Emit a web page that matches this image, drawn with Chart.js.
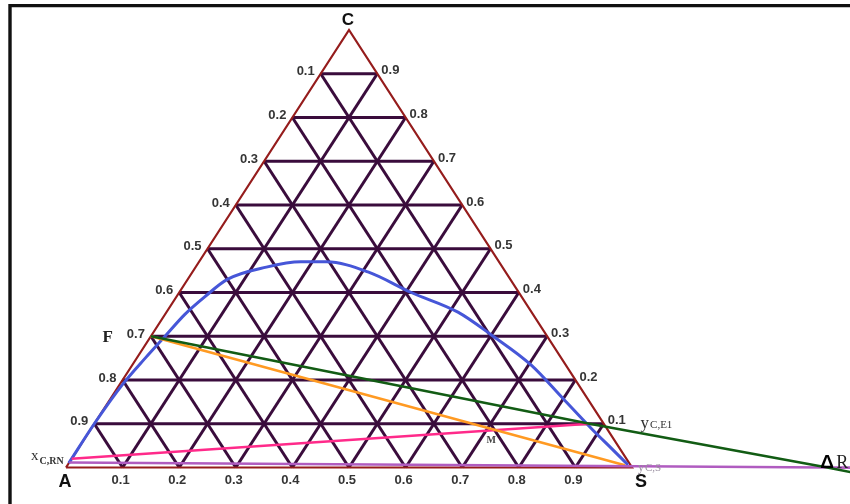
<!DOCTYPE html>
<html>
<head>
<meta charset="utf-8">
<title>Ternary extraction diagram</title>
<script src="https://cdn.jsdelivr.net/npm/chart.js@4.4.0/dist/chart.umd.min.js"></script>
<style>
  html, body { margin: 0; padding: 0; background: #fff; }
  #wrap { width: 850px; height: 504px; position: relative; }
</style>
</head>
<body>
<div id="wrap"><canvas id="tri"></canvas></div>
<script>
// ── composition grid (mass fractions) ──
const gridTicks    = [0.1, 0.2, 0.3, 0.4, 0.5, 0.6, 0.7, 0.8, 0.9];
const bottomLabels = ['0.1', '0.2', '0.3', '0.4', '0.5', '0.6', '0.7', '0.8', '0.9']; // S along A–S
const leftLabels   = ['0.9', '0.8', '0.7', '0.6', '0.5', '0.4', '0.3', '0.2', '0.1']; // A along A–C, for C = 0.1 … 0.9
const rightLabels  = ['0.1', '0.2', '0.3', '0.4', '0.5', '0.6', '0.7', '0.8', '0.9']; // C along S–C

// ── binodal (solvent fraction / solute fraction) ──
const binodalS = [0.00, 0.00, 0.005, 0.015, 0.025, 0.035, 0.05, 0.07, 0.125, 0.18, 0.225, 0.31, 0.41, 0.515, 0.60, 0.705, 0.80, 0.885, 0.944, 0.99];
const binodalC = [0.01, 0.10, 0.19, 0.25, 0.30, 0.35, 0.39, 0.43, 0.458, 0.47, 0.47, 0.447, 0.40, 0.355, 0.303, 0.234, 0.157, 0.088, 0.042, 0.006];

// ── key compositions [S, C] ──
const pA      = [0, 0];
const pS      = [1, 0];
const pC      = [0, 1];
const pF      = [0, 0.30];      // feed
const pRN     = [0, 0.02];      // final raffinate x_C,RN
const pE1     = [0.875, 0.10];  // first extract y_C,E1
const pSolv   = [0.985, 0.005]; // solvent y_C,S
const pM      = [0.71, 0.086];  // mixing point
const pDelta  = [1.345, 0];     // difference point ΔR
const pOpEnd  = [1.46, -0.026]; // F–E1–ΔR line runs on past ΔR
const pBaseA  = [0, 0.0115];    // RN–S–ΔR line
const pBaseEnd = [1.45, -0.001];

// ternary (S, C) -> cartesian
const toXY = p => ({ x: p[0] + p[1] / 2, y: p[1] });
const line = (pts, color, width, order) => ({
  data: pts.map(toXY), showLine: true, borderColor: color, borderWidth: width,
  pointRadius: 0, fill: false, tension: 0, order,
});

const GRID = '#3a0c3c';
const EDGE = '#951c1c';

const datasets = [];
gridTicks.forEach(t => {
  datasets.push(line([[0, t], [1 - t, t]], GRID, 3, 10)); // constant C
  datasets.push(line([[t, 0], [t, 1 - t]], GRID, 3, 10)); // constant S
  datasets.push(line([[t, 0], [0, t]], GRID, 3, 10));     // constant A
});
datasets.push(line([pA, pS, pC, pA], EDGE, 2.2, 8));

const binodal = line(binodalS.map((s, i) => [s, binodalC[i]]), '#4656d8', 3, 3);
binodal.tension = 0.4;
binodal.cubicInterpolationMode = 'monotone';
datasets.push(binodal);
datasets.push(line([pBaseA, pDelta, pBaseEnd], '#b05cc0', 2.6, 2));
datasets.push(line([pF, pSolv], '#ff9a22', 2.6, 2));
datasets.push(line([pRN, pE1], '#ff2a8a', 2.4, 2));
datasets.push(line([pF, pE1, pDelta, pOpEnd], '#125c14', 2.6, 1));

// subscripted label: main text + smaller text after it
function subLabel(ctx, x, y, main, sub, mainFont, subFont, subDy, color, align) {
  ctx.font = mainFont;
  const w1 = ctx.measureText(main).width;
  ctx.font = subFont;
  const w2 = ctx.measureText(sub).width;
  const x0 = align === 'right' ? x - w1 - w2 : x;
  ctx.fillStyle = color;
  ctx.textAlign = 'left';
  ctx.textBaseline = 'alphabetic';
  ctx.font = mainFont;
  ctx.fillText(main, x0, y);
  ctx.font = subFont;
  ctx.fillText(sub, x0 + w1 + 1, y + subDy);
}

const annotate = {
  id: 'annotate',
  beforeDraw(chart) {
    const { ctx, width, height } = chart;
    ctx.save();
    ctx.fillStyle = '#fff';
    ctx.fillRect(0, 0, width, height);
    ctx.strokeStyle = '#111';
    ctx.lineWidth = 3.4;
    ctx.beginPath();
    ctx.moveTo(10, height);
    ctx.lineTo(10, 5.6);
    ctx.lineTo(width, 5.6);
    ctx.stroke();
    ctx.restore();
  },
  afterDatasetsDraw(chart) {
    const { ctx, scales: { x, y } } = chart;
    const px = p => x.getPixelForValue(p[0] + p[1] / 2);
    const py = p => y.getPixelForValue(p[1]);
    const TICK = '#353535';
    const SANS = 'Arial, "Liberation Sans", sans-serif';
    const SERIF = '"Times New Roman", "Liberation Serif", serif';
    ctx.save();

    ctx.font = 'bold 13px ' + SANS;
    ctx.fillStyle = TICK;
    ctx.textBaseline = 'middle';
    gridTicks.forEach((t, i) => {
      // A along the left edge
      ctx.textAlign = 'right';
      ctx.fillText(leftLabels[i], px([0, t]) - 6, py([0, t]) - 2);
      // C along the right edge
      ctx.textAlign = 'left';
      ctx.fillText(rightLabels[i], px([1 - t, t]) + 4, py([1 - t, t]) - 3);
      // S along the base
      ctx.textAlign = 'center';
      ctx.fillText(bottomLabels[i], px([t, 0]) - 2, py([t, 0]) + 13);
    });

    // vertices
    ctx.fillStyle = '#111';
    ctx.textBaseline = 'alphabetic';
    ctx.textAlign = 'center';
    ctx.font = 'bold 17px ' + SANS;
    ctx.fillText('C', px(pC) - 1, py(pC) - 5);
    ctx.font = 'bold 18px ' + SANS;
    ctx.fillText('A', px(pA) - 1, py(pA) + 20);
    ctx.fillText('S', px(pS) + 9, py(pS) + 20);

    // feed
    ctx.font = 'bold 17px ' + SERIF;
    ctx.textAlign = 'right';
    ctx.fillStyle = '#222';
    ctx.fillText('F', px(pF) - 38, py(pF) + 6);

    // stream compositions
    subLabel(ctx, px(pRN) - 9, py(pRN) + 1, 'x', 'C,RN',
      '15px ' + SERIF, 'bold 10px ' + SERIF, 4, '#333', 'right');
    subLabel(ctx, px(pE1) + 51, py(pE1) + 4, 'y', 'C,E1',
      '17px ' + SERIF, '11px ' + SERIF, 0, '#333', 'left');
    subLabel(ctx, px(pSolv) + 13, py(pSolv) + 6, 'y', 'C,S',
      '12px ' + SERIF, '11px ' + SERIF, 0, '#9a8fa0', 'left');

    // mixing point
    ctx.font = 'bold 10px ' + SERIF;
    ctx.fillStyle = '#444';
    ctx.textAlign = 'center';
    ctx.fillText('M', px(pM) - 1, py(pM) + 13);

    // difference point
    ctx.fillStyle = '#000';
    ctx.textAlign = 'left';
    ctx.font = 'bold 19px ' + SANS;
    ctx.fillText('\u0394', px(pDelta) - 7, py(pDelta) + 1);
    ctx.font = '18px ' + SERIF;
    ctx.fillStyle = '#222';
    ctx.fillText('R', px(pDelta) + 9, py(pDelta) + 1);

    ctx.restore();
  },
};

new Chart(document.getElementById('tri'), {
  type: 'scatter',
  data: { datasets },
  options: {
    responsive: true,
    maintainAspectRatio: false,
    animation: false,
    layout: { padding: 0 },
    plugins: { legend: { display: false }, tooltip: { enabled: false } },
    scales: {
      x: { type: 'linear', display: false, min: -0.11661, max: 1.38516 },
      y: { type: 'linear', display: false, min: -0.08343, max: 1.06857 },
    },
  },
  plugins: [annotate],
});
</script>
</body>
</html>
